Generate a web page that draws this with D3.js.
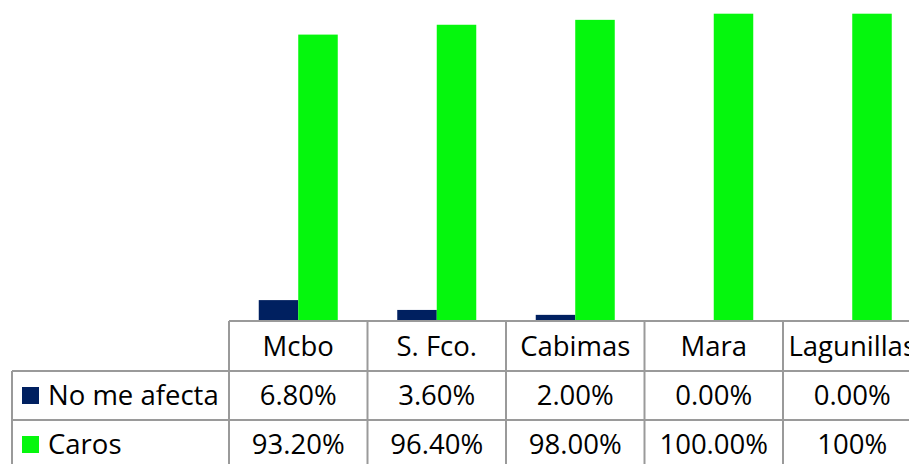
<!DOCTYPE html>
<html><head><meta charset="utf-8">
<script src="https://cdn.jsdelivr.net/npm/d3@7"></script>
<style>html,body{margin:0;padding:0;background:#fff;overflow:hidden}</style>
</head><body>
<svg id="c" width="909" height="464"></svg>
<script>
const categories = ["Mcbo", "S. Fco.", "Cabimas", "Mara", "Lagunillas"];
const seriesNames = ["No me afecta", "Caros"];
const noMeAfecta = [0.068, 0.036, 0.02, 0.0, 0.0];
const caros = [0.932, 0.964, 0.98, 1.0, 1.0];
const noMeAfectaLabels = ["6.80%", "3.60%", "2.00%", "0.00%", "0.00%"];
const carosLabels = ["93.20%", "96.40%", "98.00%", "100.00%", "100%"];
const colors = ["#002060", "#05f70d"];

const svg = d3.select("#c");
const baseY = 321;
const tableLeft = 229, colW = 138.5, legendLeft = 12;
const rowH = [321, 371, 420, 469];

const x = d3.scaleBand().domain(categories).range([tableLeft, tableLeft + colW * categories.length]).padding(0);
const barW = 39.5;
const x1 = d3.scaleBand().domain(seriesNames).range([0, barW * 2]).padding(0);
const y = d3.scaleLinear().domain([0, 1]).range([baseY, 13.7]);

const data = [noMeAfecta, caros];
const labels = [noMeAfectaLabels, carosLabels];

// bars
seriesNames.forEach((s, si) => {
  svg.append("g").selectAll("rect").data(categories).join("rect")
    .attr("x", c => x(c) + x.bandwidth() / 2 - barW + x1(s))
    .attr("width", x1.bandwidth())
    .attr("y", (c, i) => y(data[si][i]))
    .attr("height", (c, i) => baseY - y(data[si][i]))
    .attr("fill", colors[si]);
});

// table grid
const grid = svg.append("g").attr("stroke", "#9a9a9a").attr("stroke-width", 2).attr("fill", "none");
grid.append("line").attr("x1", tableLeft).attr("x2", 909).attr("y1", rowH[0]).attr("y2", rowH[0]);
grid.append("line").attr("x1", legendLeft).attr("x2", 909).attr("y1", rowH[1]).attr("y2", rowH[1]);
grid.append("line").attr("x1", legendLeft).attr("x2", 909).attr("y1", rowH[2]).attr("y2", rowH[2]);
grid.append("line").attr("x1", legendLeft).attr("x2", legendLeft).attr("y1", rowH[1]).attr("y2", 464);
grid.selectAll("line.v").data(categories).join("line").attr("class", "v")
  .attr("x1", c => x(c)).attr("x2", c => x(c)).attr("y1", rowH[0]).attr("y2", 464);

const font = "'Open Sans', sans-serif";
const fs = 27.5;
// header labels
svg.append("g").selectAll("text").data(categories).join("text")
  .attr("x", c => x(c) + x.bandwidth() / 2)
  .attr("y", (rowH[0] + rowH[1]) / 2)
  .attr("dy", "0.36em")
  .attr("text-anchor", "middle")
  .attr("font-family", font).attr("font-size", fs).attr("fill", "#000")
  .text(c => c);

// value rows
seriesNames.forEach((s, si) => {
  const cy = (rowH[si + 1] + rowH[si + 2]) / 2;
  svg.append("g").selectAll("text").data(categories).join("text")
    .attr("x", c => x(c) + x.bandwidth() / 2)
    .attr("y", cy)
    .attr("dy", "0.36em")
    .attr("text-anchor", "middle")
    .attr("font-family", font).attr("font-size", fs).attr("fill", "#000")
    .text((c, i) => labels[si][i]);
  svg.append("rect").attr("x", 22).attr("y", cy - 8.5).attr("width", 17).attr("height", 17).attr("fill", colors[si]);
  svg.append("text").attr("x", 48).attr("y", cy).attr("dy", "0.36em")
    .attr("font-family", font).attr("font-size", fs).attr("fill", "#000").text(s);
});
</script>
</body></html>
